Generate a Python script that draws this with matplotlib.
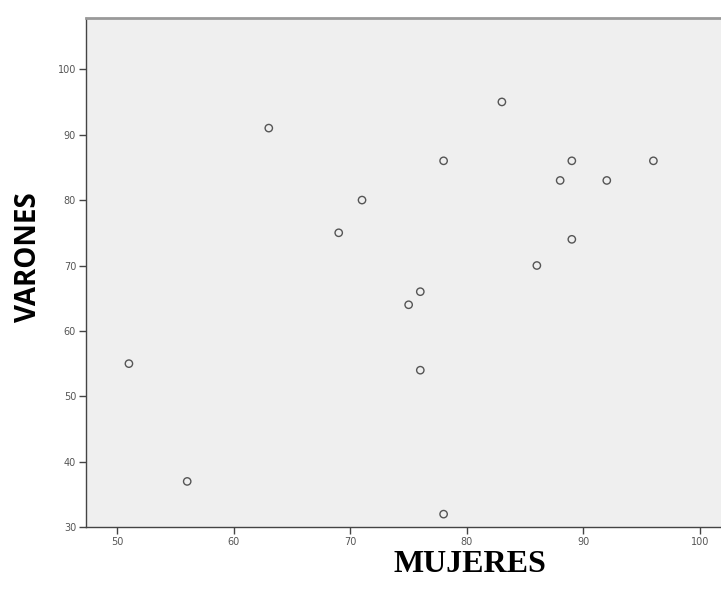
import matplotlib.pyplot as plt

# scatter values (mujeres vs varones)
mujeres = [51, 56, 63, 69, 71, 75, 76, 76, 78, 78, 83, 86, 88, 89, 89, 92, 96]
varones = [55, 37, 91, 75, 80, 64, 66, 54, 86, 32, 95, 70, 83, 86, 74, 83, 86]

x_ticks = [50, 60, 70, 80, 90, 100]
y_ticks = [30, 40, 50, 60, 70, 80, 90, 100]

fig = plt.figure(figsize=(7.21, 6.06), dpi=100)
ax = fig.add_axes([0.119, 0.130, 0.881, 0.840])
ax.set_facecolor('#efefef')

ax.scatter(mujeres, varones, s=28, facecolors='none', edgecolors='#555555', linewidths=1.0, zorder=3)

ax.set_xlim(47.3, 101.8)
ax.set_ylim(30, 107.8)
ax.set_xticks(x_ticks)
ax.set_yticks(y_ticks)

ax.spines['right'].set_visible(False)
for s in ['left', 'bottom']:
    ax.spines[s].set_color('#444444')
    ax.spines[s].set_linewidth(1.0)
ax.spines['top'].set_color('#999999')
ax.spines['top'].set_linewidth(2.0)

ax.tick_params(axis='both', direction='out', length=5, width=1, color='#444444',
               labelsize=7, labelcolor='#555555', pad=2)

fig.text(0.040, 0.575, 'VARONES', rotation=90, ha='center', va='center',
         fontsize=20, fontweight='bold', family='Open Sans')
fig.text(0.652, 0.068, 'MUJERES', ha='center', va='center',
         fontsize=23, fontweight='bold', family='Liberation Serif')

fig.savefig('out.png', dpi=100)
